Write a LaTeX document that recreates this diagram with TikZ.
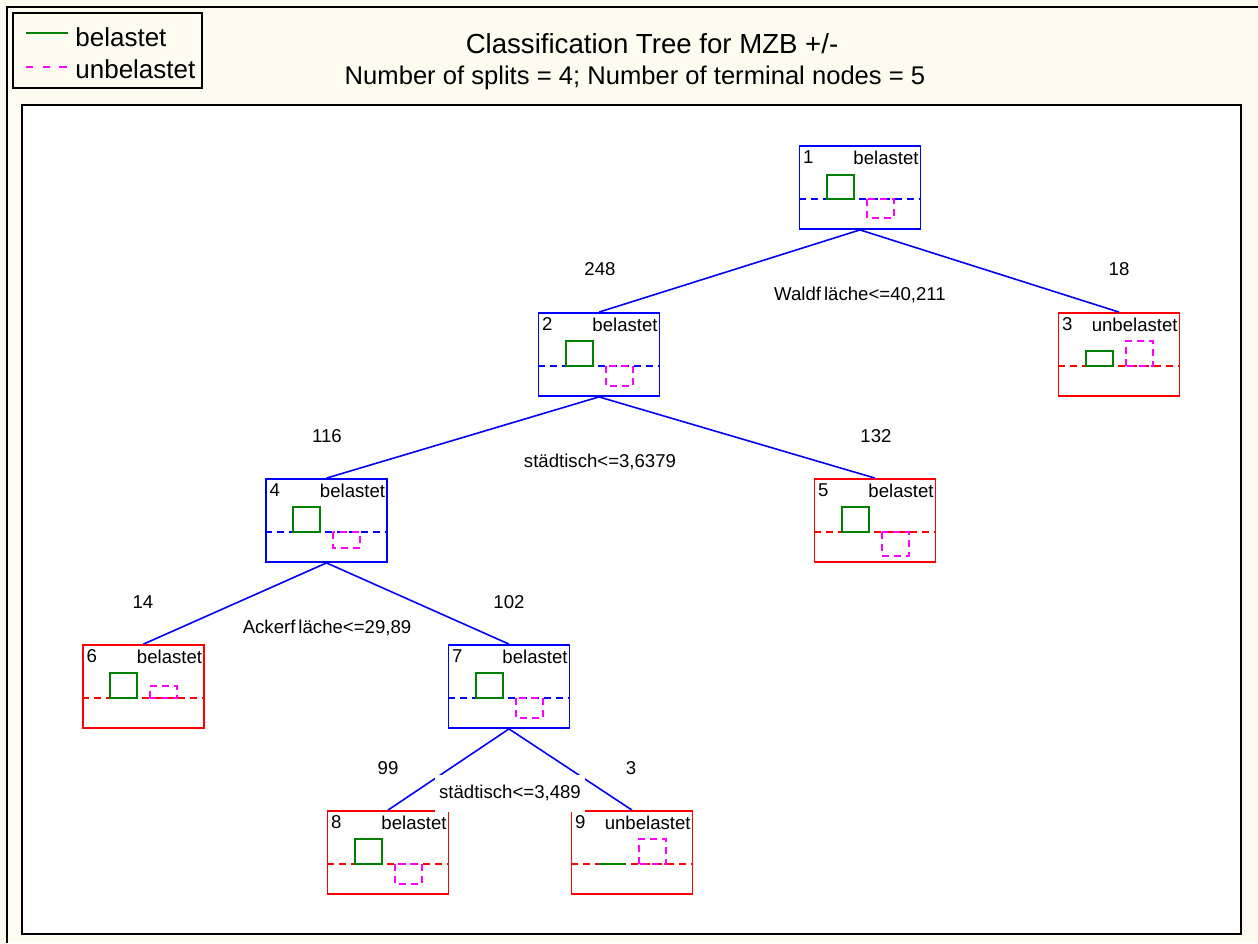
\documentclass[tikz,border=0pt]{standalone}
\usepackage{fontspec}
\setmainfont{Liberation Sans}
\usepackage{xcolor}
\usetikzlibrary{positioning}
\definecolor{bgcream}{RGB}{255,251,240}
\definecolor{gooddark}{RGB}{0,128,0}
\definecolor{badpink}{RGB}{255,0,255}

\begin{document}
\begin{tikzpicture}[x=0.5pt, y=-0.5pt, font=\fontsize{9.3}{11}\selectfont,
  tnode/.style={draw, line width=0.9pt, minimum width=60.5pt, minimum height=41.5pt,
                inner sep=0pt, fill=white},
  inner/.style={tnode, draw=blue},
  leaf/.style={tnode, draw=red},
  num/.style={label={[anchor=north west, inner xsep=2pt, inner ysep=2.6pt]north west:#1}},
  cls/.style={label={[anchor=north east, inner xsep=1.2pt, inner ysep=2.6pt]north east:#1}},
  edge/.style={blue, line width=0.8pt},
  cnt/.style={inner sep=1pt},
  split/.style={fill=white, inner xsep=2pt, minimum height=18.5pt},
  midline/.style={dash pattern=on 3.5pt off 2.5pt, line width=0.8pt},
  gbar/.style={draw=gooddark, line width=0.9pt},
  mbar/.style={draw=badpink, dash pattern=on 3.5pt off 2.5pt, line width=0.9pt}]

\useasboundingbox (0,0) rectangle (1258,943);
\fill[bgcream] (0,0) rectangle (1258,943);
\draw[line width=1pt] (7,943) -- (7,7) -- (1258,7);

% legend
\draw[line width=1.2pt] (13,13) rectangle (202,88);
\node[anchor=west, inner sep=0pt, font=\fontsize{13}{15}\selectfont] (lg1) at (75,37) {belastet};
\node[anchor=west, inner sep=0pt, font=\fontsize{13}{15}\selectfont] (lg2) at (75,69) {unbelastet};
\draw[gooddark, line width=1pt] (26,33) -- (68,33);
\draw[badpink, line width=1pt, dash pattern=on 3.7pt off 4.6pt] (26,67) -- (70,67);

% title
\node[font=\fontsize{13.8}{16}\selectfont] (title) at (652,44) {Classification Tree for MZB +/-};
\node[font=\fontsize{12.8}{15}\selectfont] (sub) at (635,78) {Number of splits = 4; Number of terminal nodes = 5};

% plot frame
\draw[fill=white, line width=0.8pt] (22,105) rectangle (1241,934);

% tree nodes
\node[inner, num=1, cls=belastet]   (n1) at (860,187.5)  {};
\node[inner, num=2, cls=belastet]   (n2) at (599,354.5)  {};
\node[leaf,  num=3, cls=unbelastet] (n3) at (1119,354.5) {};
\node[inner, num=4, cls=belastet]   (n4) at (326.5,520.5) {};
\node[leaf,  num=5, cls=belastet]   (n5) at (875,520.5)  {};
\node[leaf,  num=6, cls=belastet]   (n6) at (143.5,686.5) {};
\node[inner, num=7, cls=belastet]   (n7) at (509,686.5)  {};
\node[leaf,  num=8, cls=belastet]   (n8) at (388,852.5)  {};
\node[leaf,  num=9, cls=unbelastet] (n9) at (632,852.5)  {};

\foreach \a/\b in {n1/n2, n1/n3, n2/n4, n2/n5, n4/n6, n4/n7, n7/n8, n7/n9}{
  \draw[edge] (\a.south) -- (\b.north);}

% split rules and counts
\node[split] (s1) at (860,295) {Waldf\kern1.5pt läche<=40,211};
\node[split] (s2) at (600,462) {städtisch<=3,6379};
\node[split] (s4) at (327,628) {Ackerf\kern1.5pt läche<=29,89};
\node[split] (s7) at (510,793) {städtisch<=3,489};

\node[cnt] (c2) at (600,269)  {248};
\node[cnt] (c3) at (1119,269) {18};
\node[cnt] (c4) at (327,436)  {116};
\node[cnt] (c5) at (876,436)  {132};
\node[cnt] (c6) at (143,602)  {14};
\node[cnt] (c7) at (509,602)  {102};
\node[cnt] (c8) at (388,768)  {99};
\node[cnt] (c9) at (631,768)  {3};

% class bars in each node
\foreach \n/\c/\g/\m in {n1/blue/24/-19, n2/blue/25/-20, n3/red/15/25, n4/blue/25/-16,
    n5/red/25/-24, n6/red/25/12, n7/blue/25/-20, n8/red/25/-20, n9/red/0/25}{
  \begin{scope}[shift={(\n.north west)}]
    \draw[midline, \c] (0,54) -- (121,54);
    \draw[gbar] (28,54) rectangle (55,{54-\g});
    \draw[mbar] (68,54) rectangle (95,{54-(\m)});
  \end{scope}}
\end{tikzpicture}
\end{document}
